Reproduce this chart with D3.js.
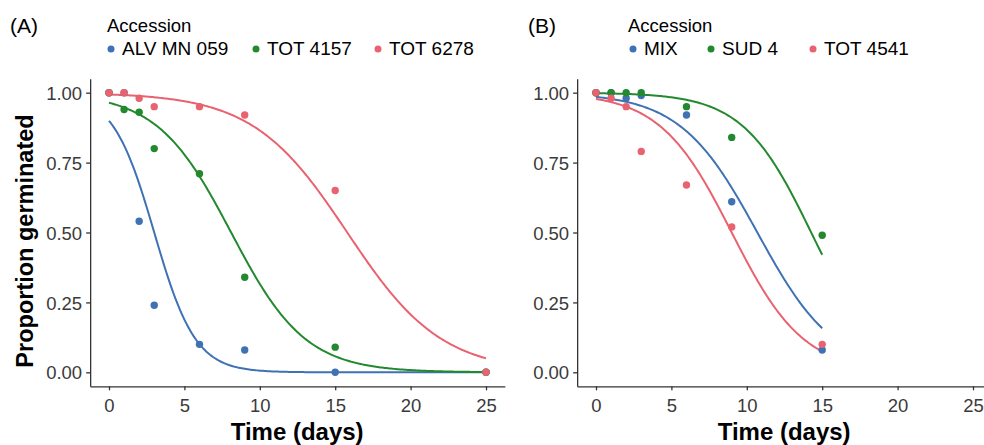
<!DOCTYPE html>
<html lang="en">
	<head>
		<meta charset="utf-8">
		<title>Germination curves</title>
		<script type="text/javascript" src="https://cdn.jsdelivr.net/npm/d3@7"></script>
		<style>
			body { margin: 0; background: white; }
			text { font-family: "Liberation Sans", Arial, sans-serif; }
			.tick text { font-size: 18.5px; fill: #3a3a3a; }
			.tick line, .domain { stroke: #333; stroke-width: 1.3px; }
		</style>
	</head>
	<body>
		<script type="text/javascript">
			// panel A
			var daysA = [0, 1, 2, 3, 6, 9, 15, 25];
			var namesA = ["ALV MN 059", "TOT 4157", "TOT 6278"];
			var alvMN059 = [1.00, 1.00, 0.54, 0.24, 0.10, 0.08, 0.00, 0.00];
			var tot4157 = [1.00, 0.94, 0.93, 0.80, 0.71, 0.34, 0.09, 0.00];
			var tot6278 = [1.00, 1.00, 0.98, 0.95, 0.95, 0.92, 0.65, 0.00];
			// logistic fit (midpoint day, rate)
			var fitMidA = [3.0, 8.1, 15.8];
			var fitRateA = [0.73, 0.406, 0.32];

			// panel B
			var daysB = [0, 1, 2, 3, 6, 9, 15];
			var namesB = ["MIX", "SUD 4", "TOT 4541"];
			var mix = [1.00, 1.00, 0.98, 0.99, 0.92, 0.61, 0.08];
			var sud4 = [1.00, 1.00, 1.00, 1.00, 0.95, 0.84, 0.49];
			var tot4541 = [1.00, 0.98, 0.95, 0.79, 0.67, 0.52, 0.10];
			var fitMidB = [10.7, 14.27, 9.0];
			var fitRateB = [0.39, 0.44, 0.42];

			var xTicks = [0, 5, 10, 15, 20, 25];
			var yTicks = [0, 0.25, 0.5, 0.75, 1];
			var colors = ["#3f72b5", "#23892f", "#e8636f"];

			var w = 984;
			var h = 445;

			var svg = d3.select("body")
						.append("svg")
						.attr("width", w)
						.attr("height", h)
						;

			function panel(opts) {
				var xScale = d3.scaleLinear()
							   .domain([-1.25, 26.25])
							   .range([opts.left, opts.left + 414.7])
							   ;
				var yScale = d3.scaleLinear()
							   .domain([-0.05, 1.05])
							   .range([386.3, 78.7])
							   ;
				var g = svg.append("g");

				var xAx = g.append("g")
				 .attr("transform", "translate(0,386.3)")
				 .call(d3.axisBottom(xScale).tickValues(xTicks).tickSize(4).tickSizeOuter(0).tickPadding(5))
				 ;
				xAx.selectAll(".tick text").attr("dy", "0.9em");
				var yAx = g.append("g")
				 .attr("transform", "translate(" + opts.left + ",0)")
				 .call(d3.axisLeft(yScale).tickValues(yTicks).tickFormat(d3.format(".2f")).tickSize(4).tickSizeOuter(0).tickPadding(4))
				 ;
				yAx.selectAll(".tick text").attr("dy", "0.36em");

				var line = d3.line()
							 .x(function(d){ return xScale(d[0]); })
							 .y(function(d){ return yScale(d[1]); })
							 ;

				opts.series.forEach(function(s, i) {
					var ts = d3.range(0, opts.maxDay + 0.001, 0.1);
					var pts = ts.map(function(t){
						return [t, 1 / (1 + Math.exp(opts.rates[i] * (t - opts.mids[i])))];
					});
					g.append("path")
					 .datum(pts)
					 .attr("d", line)
					 .attr("fill", "none")
					 .attr("stroke", colors[i])
					 .attr("stroke-width", 2)
					 ;
				});

				opts.series.forEach(function(s, i) {
					g.selectAll(null)
					 .data(s)
					 .enter()
					 .append("circle")
					 .attr("cx", function(d, j){ return xScale(opts.days[j]); })
					 .attr("cy", function(d){ return yScale(d); })
					 .attr("r", 3.7)
					 .attr("fill", colors[i])
					 ;
				});

				// x title
				g.append("text")
				 .attr("x", opts.left + 207)
				 .attr("y", 440)
				 .attr("text-anchor", "middle")
				 .style("font-size", "24px")
				 .style("font-weight", "bold")
				 .text("Time (days)")
				 ;

				// tag and legend
				g.append("text")
				 .attr("x", opts.tagX)
				 .attr("y", 33)
				 .style("font-size", "21px")
				 .text(opts.tag)
				 ;
				g.append("text")
				 .attr("x", opts.legX)
				 .attr("y", 31.5)
				 .style("font-size", "18.5px")
				 .text("Accession")
				 ;
				opts.names.forEach(function(n, i) {
					g.append("circle")
					 .attr("cx", opts.dotX[i])
					 .attr("cy", 49)
					 .attr("r", 3.5)
					 .attr("fill", colors[i])
					 ;
					g.append("text")
					 .attr("x", opts.dotX[i] + 11)
					 .attr("y", 54.5)
					 .style("font-size", "19px")
					 .text(n)
					 ;
				});
			}

			panel({
				left: 90.15, days: daysA, series: [alvMN059, tot4157, tot6278],
				mids: fitMidA, rates: fitRateA, maxDay: 25, names: namesA,
				tag: "(A)", tagX: 10, legX: 107, dotX: [111, 256, 378]
			});
			panel({
				left: 577.15, days: daysB, series: [mix, sud4, tot4541],
				mids: fitMidB, rates: fitRateB, maxDay: 15, names: namesB,
				tag: "(B)", tagX: 528, legX: 628, dotX: [633, 711, 813]
			});

			svg.append("text")
			   .attr("transform", "translate(33,241) rotate(-90)")
			   .attr("text-anchor", "middle")
			   .style("font-size", "23.5px")
			   .style("font-weight", "bold")
			   .text("Proportion germinated")
			   ;
		</script>
	</body>
</html>
